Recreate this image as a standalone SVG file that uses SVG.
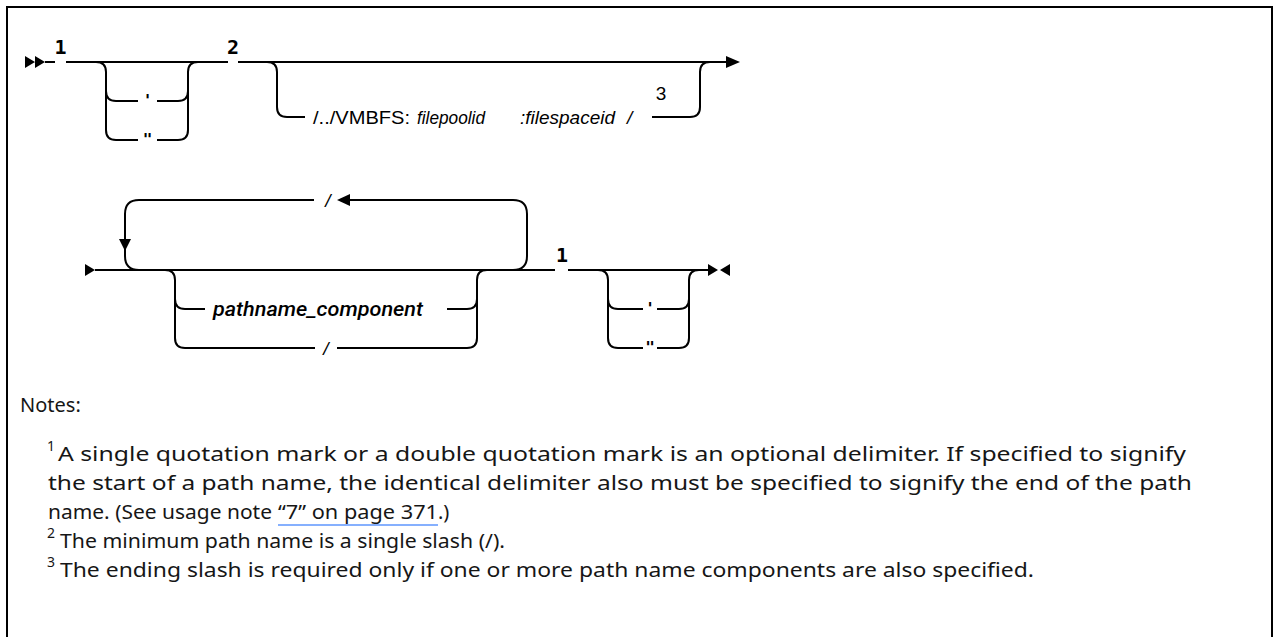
<svg xmlns="http://www.w3.org/2000/svg" width="1274" height="637" viewBox="0 0 1274 637">
<style>
.ln{fill:none;stroke:#000;stroke-width:2}
.hd{fill:#000}
.num{font-family:"DejaVu Sans Mono",monospace;font-weight:bold;font-size:20px;fill:#000}
.q{font-family:"DejaVu Sans Mono",monospace;font-weight:bold;font-size:16px;fill:#000}
.kw{font-family:"Liberation Sans",Arial,sans-serif;font-size:19px;fill:#000}
.it{font-family:"Liberation Sans",Arial,sans-serif;font-style:italic;font-size:19px;fill:#000}
.pc{font-family:Roboto,"Liberation Sans",sans-serif;font-style:italic;font-weight:500;font-size:20px;fill:#000}
.nt{font-family:"Noto Sans","Liberation Sans",sans-serif;font-size:20px;fill:#161616}
.sup{font-family:"Noto Sans","Liberation Sans",sans-serif;font-size:14px;fill:#161616}
</style>
<rect width="1274" height="637" fill="#fff"/>
<path class="ln" d="M7 640 V7 H1272 V640"/>
<g id="connectors">
<path class="hd" d="M25 56 L35 62 L25 68 Z M35 56 L45 62 L35 68 Z"/>
<path class="ln" d="M45 62 H55 M66 62 H228 M238 62 H728"/>
<path class="hd" d="M726 56 L740 62 L726 68 Z"/>
<path class="ln" d="M96 62 Q106 62 106 72 V130 Q106 140 116 140 H138 M106 91 Q106 101 116 101 H138"/>
<path class="ln" d="M157 101 H178 Q188 101 188 91 M157 140 H178 Q188 140 188 130 V72 Q188 62 198 62"/>
<path class="ln" d="M267 62 Q277 62 277 72 V107 Q277 117 287 117 H305"/>
<path class="ln" d="M652 117 H690 Q700 117 700 107 V72 Q700 62 710 62"/>
<path class="hd" d="M85 264 L95 270 L85 276 Z"/>
<path class="ln" d="M95 270 H555 M568 270 H708"/>
<path class="ln" d="M513 270 Q527 270 527 256 V214 Q527 200 513 200 H348"/>
<path class="hd" d="M350 194 L337 200 L350 206 Z"/>
<path class="ln" d="M314 200 H139 Q125 200 125 214 V240"/>
<path class="hd" d="M119 239 L125 251 L131 239 Z"/>
<path class="ln" d="M125 249 V256 Q125 270 139 270"/>
<path class="ln" d="M165 270 Q175 270 175 280 V338 Q175 348 185 348 H315 M175 299 Q175 309 185 309 H205"/>
<path class="ln" d="M447 309 H467 Q477 309 477 299 M337 348 H467 Q477 348 477 338 V280 Q477 270 487 270"/>
<path class="ln" d="M598 270 Q608 270 608 280 V338 Q608 348 618 348 H643 M608 299 Q608 309 618 309 H643"/>
<path class="ln" d="M657 309 H679 Q689 309 689 299 M657 348 H679 Q689 348 689 338 V280 Q689 270 699 270"/>
<path class="hd" d="M708 264 L718 270 L708 276 Z M730 264 L720 270 L730 276 Z"/>
</g>
<g id="note-refs">
<text class="num" x="60.5" y="54" text-anchor="middle">1</text>
<text class="num" x="233" y="54" text-anchor="middle">2</text>
<text class="kw" x="661" y="100" text-anchor="middle" font-size="19">3</text>
<text class="num" x="562" y="262" text-anchor="middle">1</text>
</g>
<g id="quote-opt-1">
<text class="q" x="147.5" y="106" text-anchor="middle">'</text>
<text class="q" x="147.5" y="145" text-anchor="middle">"</text>
</g>
<g id="vmbfs">
<text class="kw" x="313" y="124" textLength="97" lengthAdjust="spacingAndGlyphs">/../VMBFS:</text>
<text class="it" x="417" y="124" textLength="68" lengthAdjust="spacingAndGlyphs">filepoolid</text>
<text class="it" x="520" y="124" textLength="95" lengthAdjust="spacingAndGlyphs">:filespaceid</text>
<text class="it" x="627" y="124">/</text>
</g>
<g id="loop-sep"><text class="it" x="328" y="207" text-anchor="middle">/</text></g>
<g id="pathname"><text class="pc" x="213" y="316" textLength="210" lengthAdjust="spacingAndGlyphs">pathname_component</text></g>
<g id="slash-opt"><text class="it" x="326" y="355" text-anchor="middle">/</text></g>
<g id="quote-opt-2">
<text class="q" x="650" y="314" text-anchor="middle">'</text>
<text class="q" x="650" y="353" text-anchor="middle">"</text>
</g>
<g id="notes">
<text class="nt" x="20" y="412">Notes:</text>
<text class="sup" x="47" y="451">1</text>
<text class="nt" x="58" y="461" textLength="1128" lengthAdjust="spacingAndGlyphs">A single quotation mark or a double quotation mark is an optional delimiter. If specified to signify</text>
<text class="nt" x="48" y="490" textLength="1144" lengthAdjust="spacingAndGlyphs">the start of a path name, the identical delimiter also must be specified to signify the end of the path</text>
<text class="nt" x="48" y="519" textLength="224" lengthAdjust="spacingAndGlyphs">name. (See usage note</text>
<text class="nt" x="278" y="519" textLength="160" lengthAdjust="spacingAndGlyphs">“7” on page 371</text>
<text class="nt" x="438" y="519">.)</text>
<path d="M278 525 H438" stroke="#0f62fe" stroke-width="1.2"/>
<text class="sup" x="47" y="538">2</text>
<text class="nt" x="60" y="548" textLength="445" lengthAdjust="spacingAndGlyphs">The minimum path name is a single slash (/).</text>
<text class="sup" x="47" y="567">3</text>
<text class="nt" x="60" y="577" textLength="974" lengthAdjust="spacingAndGlyphs">The ending slash is required only if one or more path name components are also specified.</text>
</g>
</svg>
